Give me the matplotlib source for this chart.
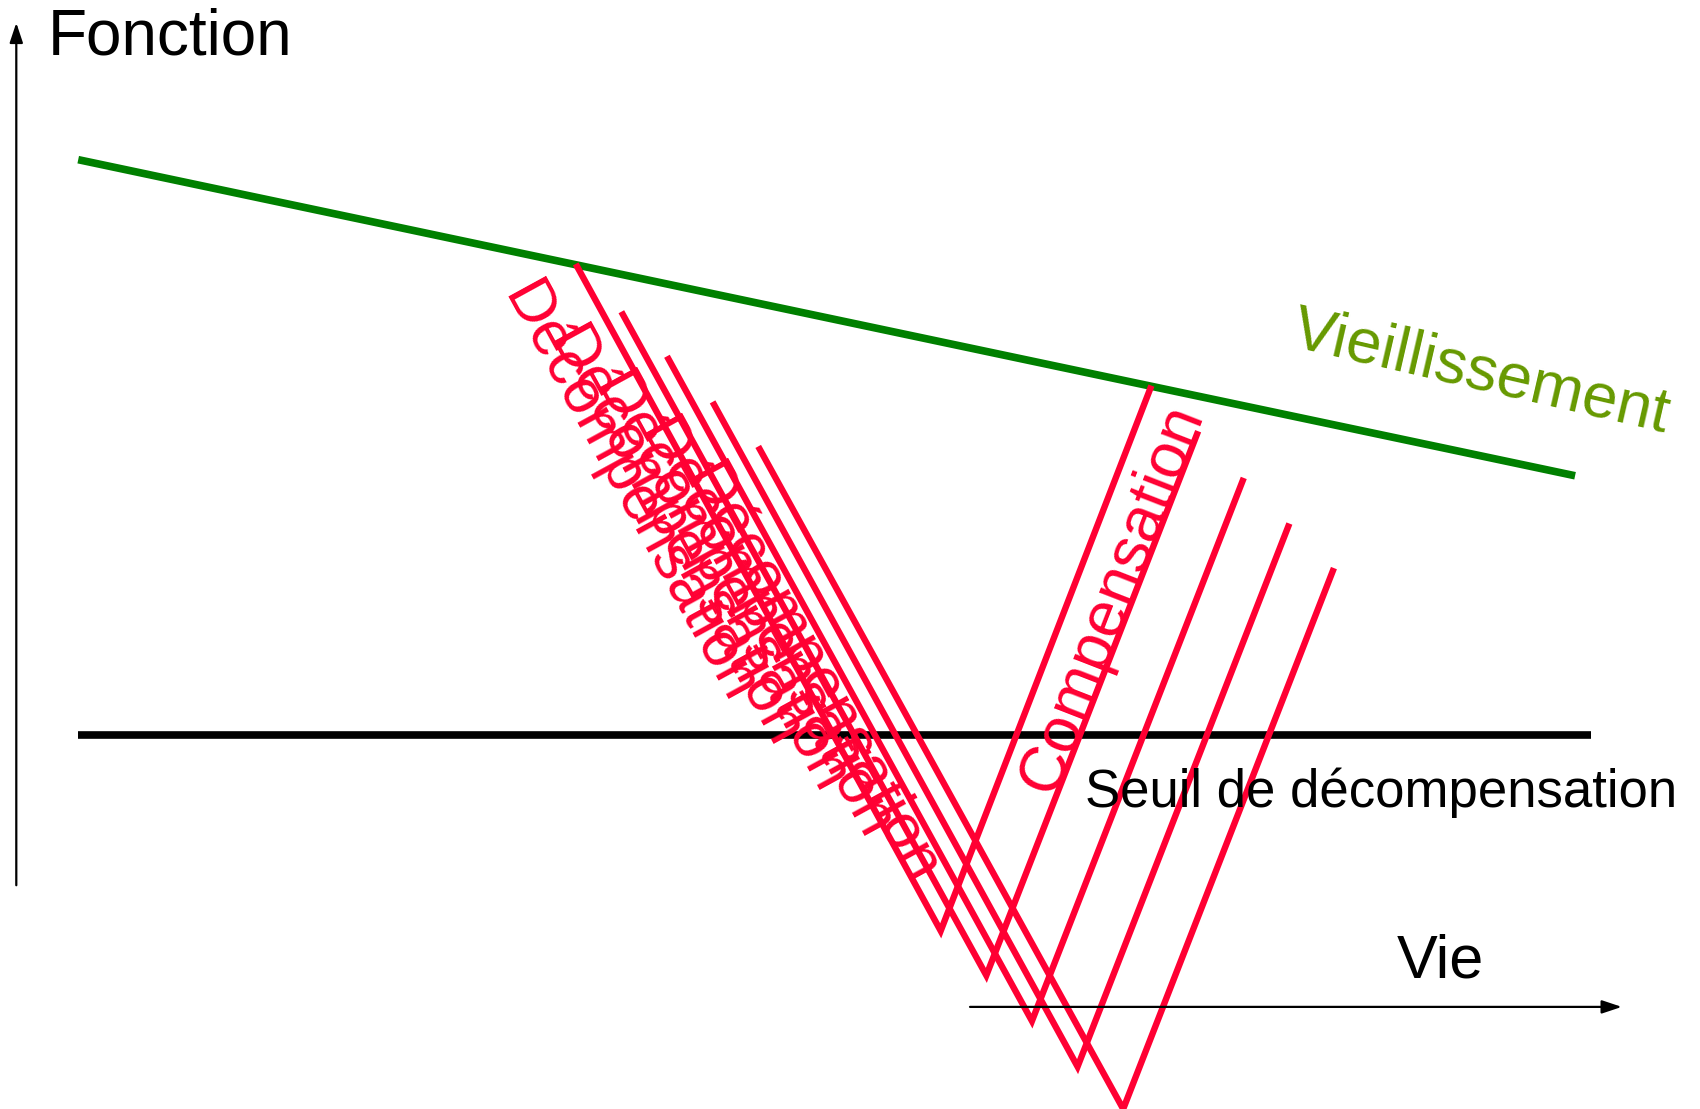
import numpy as np
import matplotlib
matplotlib.use("Agg")
import matplotlib.pyplot as plt

plt.rcParams['font.family'] = ['Liberation Sans', 'DejaVu Sans']

# Canvas coordinates (pixel-like units, y down)
W, H = 1565, 1021

# Vieillissement line and decompensation threshold
aging_x = [72, 1450]
aging_y = [147, 438]
seuil_x = [72, 1465]
seuil_y = [677, 677]

# Five V shapes: left top -> bottom -> right top
v_left_x = [530, 572, 614, 656, 698]
v_left_y = [243, 287, 328, 370, 411]
v_bottom_x = [866, 908, 950, 992, 1034]
v_bottom_y = [857, 898, 940, 982, 1021]
v_right_x = [1060, 1103, 1145, 1187, 1228]
v_right_y = [355, 397, 440, 482, 523]

# "Décompensation" labels, one per V (baseline start)
deco_x = [462, 504, 546, 588, 630]
deco_y = [272, 314, 356, 398, 440]

red = '#FF0033'

fig = plt.figure(figsize=(17, 11.09), dpi=100)
ax = fig.add_axes([0, 0, 1, 1])
ax.set_xlim(0, W)
ax.set_ylim(H, 0)
ax.axis('off')

# axes arrows
ax.annotate('', xy=(15, 21), xytext=(15, 815),
            arrowprops=dict(arrowstyle='-|>,head_length=0.6,head_width=0.2',
                            lw=1.6, color='black', mutation_scale=20,
                            shrinkA=0, shrinkB=0))
ax.annotate('', xy=(1493, 927), xytext=(893, 927),
            arrowprops=dict(arrowstyle='-|>,head_length=0.6,head_width=0.2',
                            lw=1.6, color='black', mutation_scale=20,
                            shrinkA=0, shrinkB=0))

ax.plot(aging_x, aging_y, color='#008000', lw=5.5, solid_capstyle='butt')
ax.plot(seuil_x, seuil_y, color='black', lw=5.5, solid_capstyle='butt')

for i in range(len(v_left_x)):
    ax.plot([v_left_x[i], v_bottom_x[i], v_right_x[i]],
            [v_left_y[i], v_bottom_y[i], v_right_y[i]],
            color=red, lw=4.6, solid_capstyle='butt', solid_joinstyle='miter',
            clip_on=False)

# angles of the branches
ang_left = -np.degrees(np.arctan2(v_bottom_y[0] - v_left_y[0], v_bottom_x[0] - v_left_x[0]))
ang_right = np.degrees(np.arctan2(v_bottom_y[1] - v_right_y[1], v_right_x[1] - v_bottom_x[1]))

for x, y in zip(deco_x, deco_y):
    ax.text(x, y, 'Décompensation', color=red, fontsize=45, rotation=ang_left,
            rotation_mode='anchor', ha='left', va='baseline')

ax.text(970, 733, 'Compensation', color=red, fontsize=46, rotation=ang_right,
        rotation_mode='anchor', ha='left', va='baseline')

ax.text(44, 50, 'Fonction', fontsize=46, ha='left', va='baseline')
ax.text(1286, 900, 'Vie', fontsize=44, ha='left', va='baseline')
ax.text(999, 743, 'Seuil de décompensation', fontsize=38, ha='left', va='baseline')
ax.text(1187, 318, 'Vieillissement', color='#669900', fontsize=45.5, rotation=-13,
        rotation_mode='anchor', ha='left', va='baseline')

fig.savefig('out.png', dpi=100)
